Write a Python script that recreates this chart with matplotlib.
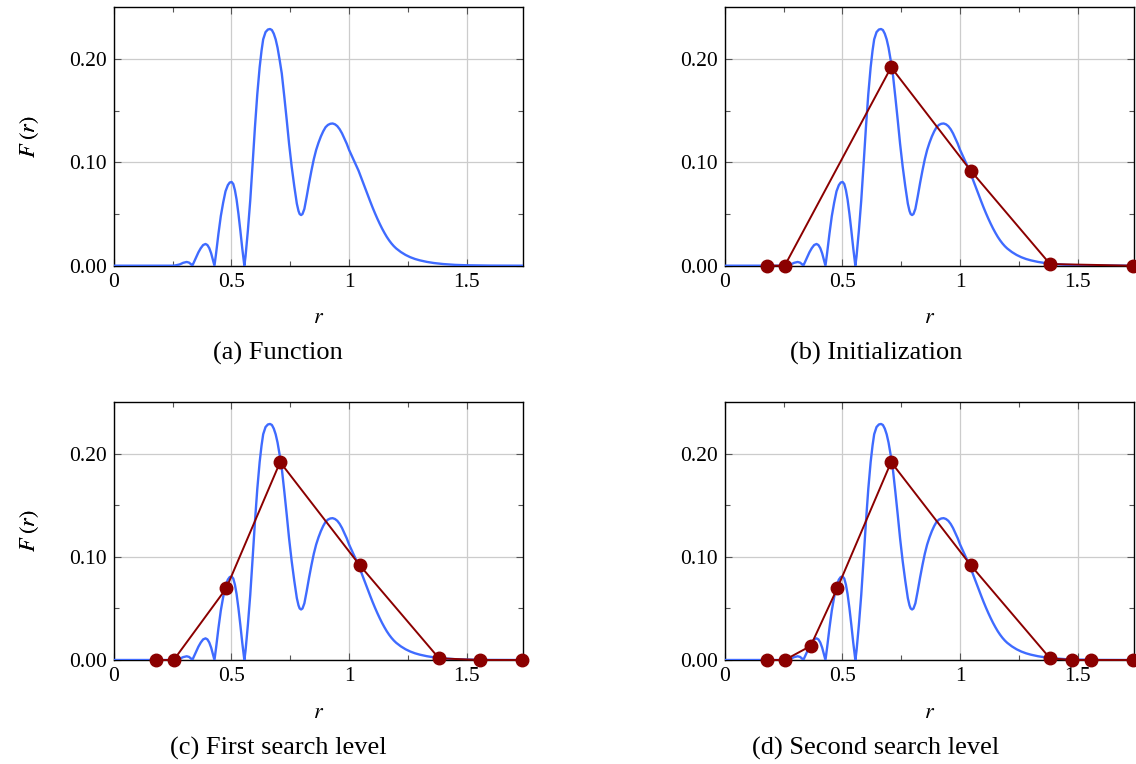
import matplotlib
matplotlib.use("Agg")
import matplotlib.pyplot as plt
from matplotlib.ticker import FixedFormatter, FixedLocator

plt.rcParams['font.family'] = ['Liberation Serif', 'DejaVu Serif']
plt.rcParams['mathtext.fontset'] = 'stix'

# function F(r)
r_curve = [0.00, 0.20, 0.25, 0.26, 0.28, 0.295, 0.31, 0.32, 0.328, 0.334,
           0.34, 0.35, 0.36, 0.37, 0.38, 0.39, 0.398, 0.406, 0.414, 0.421, 0.428,
           0.435, 0.445, 0.455, 0.465, 0.475, 0.485, 0.493, 0.501, 0.508, 0.515,
           0.522, 0.53, 0.538, 0.546, 0.555,
           0.56, 0.57, 0.58, 0.59, 0.60, 0.61, 0.62, 0.628, 0.635, 0.645, 0.655,
           0.664, 0.672, 0.68, 0.688, 0.696, 0.705, 0.714, 0.725, 0.735, 0.745,
           0.756, 0.767, 0.778, 0.785, 0.79, 0.796, 0.802, 0.81,
           0.82, 0.83, 0.84, 0.85, 0.86, 0.87, 0.88, 0.89, 0.90, 0.91, 0.92, 0.93,
           0.94, 0.95, 0.96, 0.97, 0.98, 0.99, 1.00, 1.01, 1.02, 1.03, 1.04, 1.05,
           1.06, 1.07, 1.08, 1.09, 1.10, 1.11, 1.12, 1.13, 1.14, 1.15, 1.16, 1.17,
           1.18, 1.19, 1.20, 1.22, 1.24, 1.26, 1.28, 1.30, 1.33, 1.36, 1.40, 1.45,
           1.50, 1.60, 1.74]
F_curve = [0.0, 0.0, 0.0, 0.0002, 0.0012, 0.0028, 0.0036, 0.003, 0.0015, 0.0,
           0.003, 0.008, 0.013, 0.017, 0.020, 0.021, 0.020, 0.017, 0.012, 0.006, 0.0,
           0.012, 0.031, 0.048, 0.061, 0.072, 0.078, 0.0805, 0.081, 0.079, 0.073,
           0.064, 0.050, 0.034, 0.017, 0.0,
           0.009, 0.034, 0.063, 0.098, 0.134, 0.166, 0.192, 0.208, 0.219, 0.226, 0.2285,
           0.229, 0.228, 0.2245, 0.219, 0.211, 0.199, 0.186, 0.163, 0.141, 0.118,
           0.096, 0.077, 0.060, 0.053, 0.050, 0.049, 0.050, 0.055,
           0.067, 0.080, 0.092, 0.103, 0.112, 0.119, 0.125, 0.130, 0.134, 0.1362,
           0.1373, 0.1376, 0.1368, 0.135, 0.132, 0.128, 0.123, 0.118, 0.112, 0.107,
           0.102, 0.097, 0.092, 0.086, 0.080, 0.074, 0.068, 0.062, 0.0562, 0.0507,
           0.0455, 0.0406, 0.036, 0.0318, 0.0279, 0.0245, 0.0215, 0.0189, 0.0167,
           0.0132, 0.0104, 0.0082, 0.0065, 0.0052, 0.0037, 0.0026, 0.0016, 0.0008,
           0.0004, 0.0001, 0.0]

# sampled points at each stage
r_init = [0.178, 0.255, 0.707, 1.045, 1.382, 1.735]
F_init = [0.0, 0.0, 0.192, 0.092, 0.0016, 0.0]
r_lvl1 = [0.179, 0.255, 0.478, 0.707, 1.045, 1.382, 1.558, 1.735]
F_lvl1 = [0.0, 0.0, 0.0695, 0.192, 0.092, 0.0016, 0.0, 0.0]
r_lvl2 = [0.179, 0.255, 0.365, 0.478, 0.707, 1.045, 1.382, 1.474, 1.558, 1.735]
F_lvl2 = [0.0, 0.0, 0.0136, 0.0695, 0.192, 0.092, 0.0016, 0.0, 0.0, 0.0]

captions = ['(a) Function', '(b) Initialization', '(c) First search level', '(d) Second search level']
samples = [None, (r_init, F_init), (r_lvl1, F_lvl1), (r_lvl2, F_lvl2)]

W, H = 1136, 764
fig = plt.figure(figsize=(W / 100, H / 100), dpi=100)

# axes boxes in pixels: left, top, right, bottom
boxes = [(113.7, 7.3, 523.3, 265.7), (724.7, 7.3, 1134.3, 265.7),
         (113.7, 402.3, 523.3, 660.0), (724.7, 402.3, 1134.3, 660.0)]
cap_x = [278, 876, 278, 876]

blue = '#3f6bff'
red = '#8b0000'

for i, (l, t, r, b) in enumerate(boxes):
    ax = fig.add_axes([l / W, 1 - b / H, (r - l) / W, (b - t) / H])
    ax.plot(r_curve, F_curve, color=blue, lw=1.7, zorder=3)
    if samples[i] is not None:
        xs, ys = samples[i]
        ax.plot(xs, ys, color=red, lw=1.4, marker='o', ms=9, zorder=4, clip_on=False)
    ax.set_xlim(0, 1.74)
    ax.set_ylim(0, 0.25)
    ax.xaxis.set_major_locator(FixedLocator([0, 0.5, 1, 1.5]))
    ax.xaxis.set_major_formatter(FixedFormatter(['0', '0.5', '1', '1.5']))
    ax.xaxis.set_minor_locator(FixedLocator([0.25, 0.75, 1.25]))
    ax.yaxis.set_major_locator(FixedLocator([0, 0.1, 0.2]))
    ax.yaxis.set_major_formatter(FixedFormatter(['0.00', '0.10', '0.20']))
    ax.yaxis.set_minor_locator(FixedLocator([0.05, 0.15]))
    ax.grid(True, which='major', color='#cccccc', lw=0.9, zorder=0)
    ax.tick_params(which='both', direction='in', top=True, right=True,
                   color='#555555', labelsize=15.5, pad=5)
    ax.tick_params(which='major', length=5, width=0.8)
    ax.tick_params(which='minor', length=3.5, width=0.8)
    for s in ax.spines.values():
        s.set_linewidth(1.0)
    cy = (t + b) / 2
    fig.text(30 / W, 1 - cy / H, r'$F\;(r)$', rotation=90, fontsize=16,
             ha='center', va='center')
    fig.text((l + r) / 2 / W, 1 - (b + 53) / H, r'$r$', fontsize=16,
             ha='center', va='center')
    fig.text(cap_x[i] / W, 1 - (b + 88) / H, captions[i], fontsize=19,
             ha='center', va='center')

fig.savefig('out.png', dpi=100)
